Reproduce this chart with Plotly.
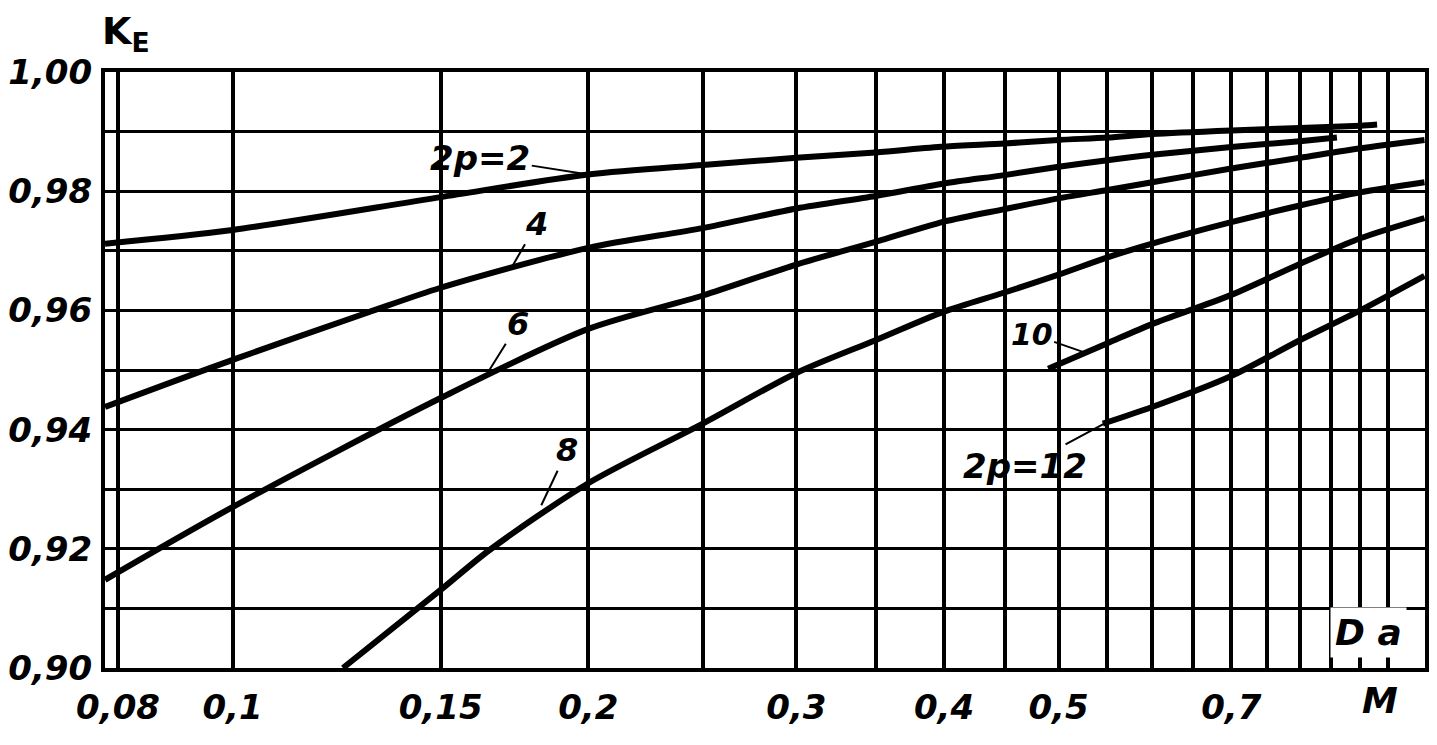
import numpy as np
import plotly.graph_objects as go

# ---- data (Da in m, K_E) ----
D_2p2 = [0.078, 0.1, 0.15, 0.2, 0.25, 0.3, 0.35, 0.4, 0.45, 0.5, 0.55, 0.6, 0.7, 0.8, 0.9, 0.93]
K_2p2 = [0.9712, 0.9735, 0.9790, 0.9828, 0.9844, 0.9856, 0.9865, 0.9875, 0.9880, 0.9886, 0.9890, 0.9896, 0.9902, 0.9906, 0.9910, 0.9912]

D_2p4 = [0.078, 0.1, 0.13, 0.15, 0.2, 0.25, 0.3, 0.35, 0.4, 0.45, 0.5, 0.55, 0.6, 0.7, 0.8, 0.86]
K_2p4 = [0.9438, 0.9517, 0.9596, 0.9638, 0.9705, 0.9738, 0.9771, 0.9792, 0.9813, 0.9827, 0.9841, 0.9852, 0.9861, 0.9874, 0.9884, 0.9890]

D_2p6 = [0.078, 0.1, 0.15, 0.2, 0.25, 0.3, 0.35, 0.4, 0.45, 0.5, 0.55, 0.6, 0.7, 0.8, 0.9, 1.02]
K_2p6 = [0.9148, 0.9270, 0.9453, 0.9569, 0.9625, 0.9677, 0.9715, 0.9749, 0.9770, 0.9788, 0.9802, 0.9815, 0.9838, 0.9856, 0.9872, 0.9886]

D_2p8 = [0.124, 0.15, 0.165, 0.2, 0.25, 0.3, 0.35, 0.4, 0.45, 0.5, 0.55, 0.6, 0.7, 0.8, 0.9, 1.02]
K_2p8 = [0.9000, 0.9131, 0.9198, 0.9310, 0.9410, 0.9495, 0.9550, 0.9598, 0.9630, 0.9660, 0.9689, 0.9712, 0.9748, 0.9776, 0.9798, 0.9815]

D_2p10 = [0.49, 0.55, 0.6, 0.7, 0.8, 0.9, 1.02]
K_2p10 = [0.9502, 0.9545, 0.9577, 0.9626, 0.9678, 0.9721, 0.9755]

D_2p12 = [0.545, 0.6, 0.7, 0.8, 0.9, 1.02]
K_2p12 = [0.9410, 0.9438, 0.9490, 0.9550, 0.9600, 0.9658]

x_major = [0.08, 0.1, 0.15, 0.2, 0.3, 0.4, 0.5, 0.7]
x_major_text = ["0,08", "0,1", "0,15", "0,2", "0,3", "0,4", "0,5", "0,7"]
x_minor = [0.25, 0.35, 0.45, 0.55, 0.6, 0.65, 0.75, 0.8, 0.85, 0.9, 0.95]

y_major = [0.90, 0.92, 0.94, 0.96, 0.98, 1.00]
y_major_text = ["0,90", "0,92", "0,94", "0,96", "0,98", "1,00"]
y_minor = [0.91, 0.93, 0.95, 0.97, 0.99]

series = [(D_2p2, K_2p2), (D_2p4, K_2p4), (D_2p6, K_2p6),
          (D_2p8, K_2p8), (D_2p10, K_2p10), (D_2p12, K_2p12)]

# curve labels: (text, D on curve, K on curve, ax, ay, size)
labels = [
    ("2p=2", 0.2, 0.9828, -108, -17, 34),
    ("4", 0.172, 0.9670, 26, -45, 32),
    ("6", 0.1646, 0.9497, 30, -48, 32),
    ("8", 0.1825, 0.9273, 26, -55, 32),
    ("10", 0.525, 0.9530, -52, -18, 30),
    ("2p=12", 0.55, 0.9413, -82, 44, 34),
]

FONT = "DejaVu Sans"

fig = go.Figure()
for D, K in series:
    fig.add_trace(go.Scatter(
        x=D, y=K, mode="lines",
        line=dict(color="black", width=6, shape="spline", smoothing=0.8),
        showlegend=False, hoverinfo="skip"))

for text, d, k, ax, ay, sz in labels:
    fig.add_annotation(
        x=np.log10(d), y=k, xref="x", yref="y", text=text,
        showarrow=True, arrowhead=0, arrowwidth=2, arrowcolor="black",
        ax=ax, ay=ay, standoff=0,
        font=dict(family=FONT, size=sz, color="black", weight="bold", style="italic"))

# axis titles
fig.add_annotation(x=-0.004, y=1.065, xref="paper", yref="paper",
                   text="K<sub>E</sub>", showarrow=False, xanchor="left", yanchor="middle",
                   font=dict(family=FONT, size=38, color="black", weight="bold"))
fig.add_annotation(x=0.957, y=0.06, xref="paper", yref="paper",
                   text="D a", showarrow=False, bgcolor="white", borderpad=4,
                   xanchor="center", yanchor="middle",
                   font=dict(family=FONT, size=36, color="black", weight="bold", style="italic"))
fig.add_annotation(x=0.966, y=-0.055, xref="paper", yref="paper",
                   text="М", showarrow=False, xanchor="center", yanchor="middle",
                   font=dict(family=FONT, size=36, color="black", weight="bold", style="italic"))

tickfont = dict(family=FONT, size=34, color="black", weight="bold", style="italic")

# the page adds an 8 px body margin, so the figure is sized to fit inside it
fig.update_layout(
    width=1421, height=729, autosize=False,
    margin=dict(l=97, r=4, t=64, b=69),
    paper_bgcolor="white", plot_bgcolor="white",
    showlegend=False,
    xaxis=dict(
        type="log", range=[np.log10(0.078), np.log10(1.021)],
        tickmode="array", tickvals=x_major, ticktext=x_major_text,
        showgrid=True, gridcolor="black", gridwidth=4,
        minor=dict(tickmode="array", tickvals=x_minor, showgrid=True,
                   gridcolor="black", gridwidth=3.5, ticks=""),
        showline=True, mirror=True, linewidth=4, linecolor="black",
        ticks="", tickfont=tickfont, ticklabelstandoff=6, zeroline=False,
        automargin=False),
    yaxis=dict(
        range=[0.90, 1.00],
        tickmode="array", tickvals=y_major, ticktext=y_major_text,
        showgrid=True, gridcolor="black", gridwidth=3,
        minor=dict(tickmode="array", tickvals=y_minor, showgrid=True,
                   gridcolor="black", gridwidth=2.5, ticks=""),
        showline=True, mirror=True, linewidth=4, linecolor="black",
        ticks="", tickfont=tickfont, ticklabelstandoff=2, zeroline=False,
        automargin=False),
)

fig.write_html("out.html")
